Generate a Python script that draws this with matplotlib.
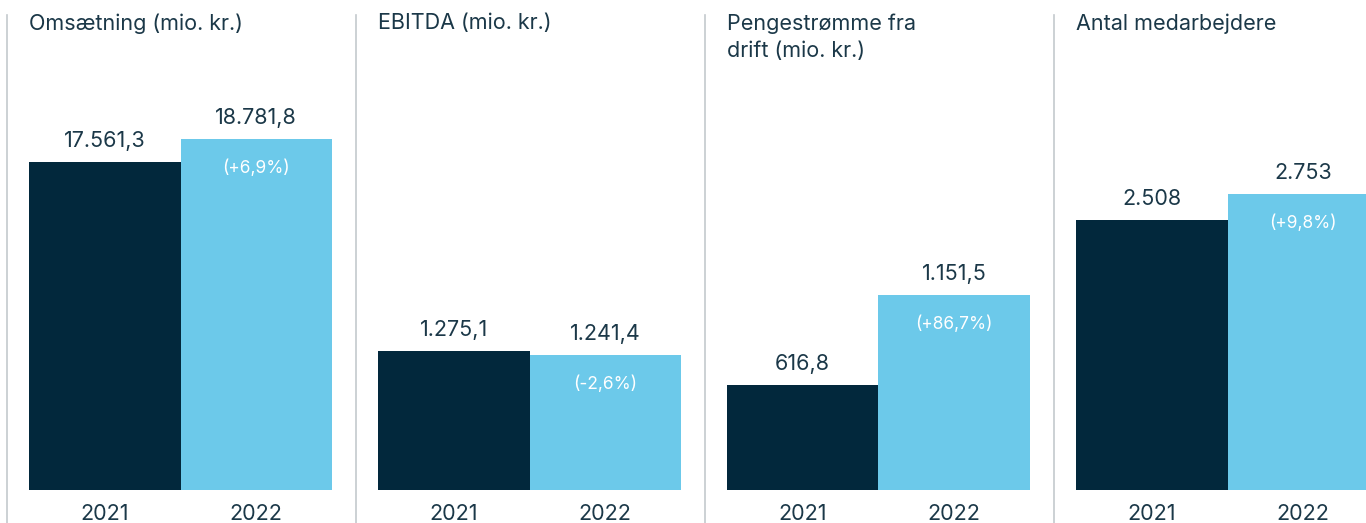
import matplotlib.pyplot as plt
from matplotlib.lines import Line2D

plt.rcParams['font.family'] = ['Inter', 'DejaVu Sans']

titles = ['Omsætning (mio. kr.)', 'EBITDA (mio. kr.)',
          'Pengestrømme fra\ndrift (mio. kr.)', 'Antal medarbejdere']
years = ['2021', '2022']
values_2021 = [17561.3, 1275.1, 616.8, 2508]
values_2022 = [18781.8, 1241.4, 1151.5, 2753]
labels_2021 = ['17.561,3', '1.275,1', '616,8', '2.508']
labels_2022 = ['18.781,8', '1.241,4', '1.151,5', '2.753']
changes = ['(+6,9%)', '(-2,6%)', '(+86,7%)', '(+9,8%)']
# top of each panel's value axis, so bar heights match the original scaling
y_tops = [25420, 4360, 2800, 4420]

dark = '#02283c'
light = '#6cc9ea'
text_col = '#1b3848'
line_col = '#c3c9cd'

W, H = 1366, 523
fig = plt.figure(figsize=(W / 100, H / 100), dpi=100)

lefts = [29, 378, 727, 1076]
ax_w = 303
ax_bottom = 490
ax_top = 15

for i in range(4):
    l = lefts[i]
    ax = fig.add_axes([l / W, 1 - ax_bottom / H, ax_w / W, (ax_bottom - ax_top) / H])
    vals = [values_2021[i], values_2022[i]]
    ax.bar([0, 1], vals, width=1.0, color=[dark, light], linewidth=0)
    ax.set_xlim(-0.5, 1.5)
    ax.set_ylim(0, y_tops[i])
    ax.axis('off')

    for x, v, lab in zip([0, 1], vals, [labels_2021[i], labels_2022[i]]):
        ax.annotate(lab, (x, v), xytext=(0, 8), textcoords='offset points',
                    ha='center', va='bottom', fontsize=15.5, color=text_col)
        ax.annotate(years[x], (x, 0), xytext=(0, -10), textcoords='offset points',
                    ha='center', va='top', fontsize=15.5, color=text_col)
    ax.annotate(changes[i], (1, vals[1]), xytext=(0, -15), textcoords='offset points',
                ha='center', va='top', fontsize=12.5, color='white')

    fig.text(l / W, 1 - 13 / H, titles[i], ha='left', va='top',
             fontsize=15.5, color=text_col, linespacing=1.45)

    lx = (l - 22) / W
    fig.add_artist(Line2D([lx, lx], [0, 1 - 15 / H], color=line_col, linewidth=1.2))

fig.savefig('out.png', dpi=100, facecolor='white')
